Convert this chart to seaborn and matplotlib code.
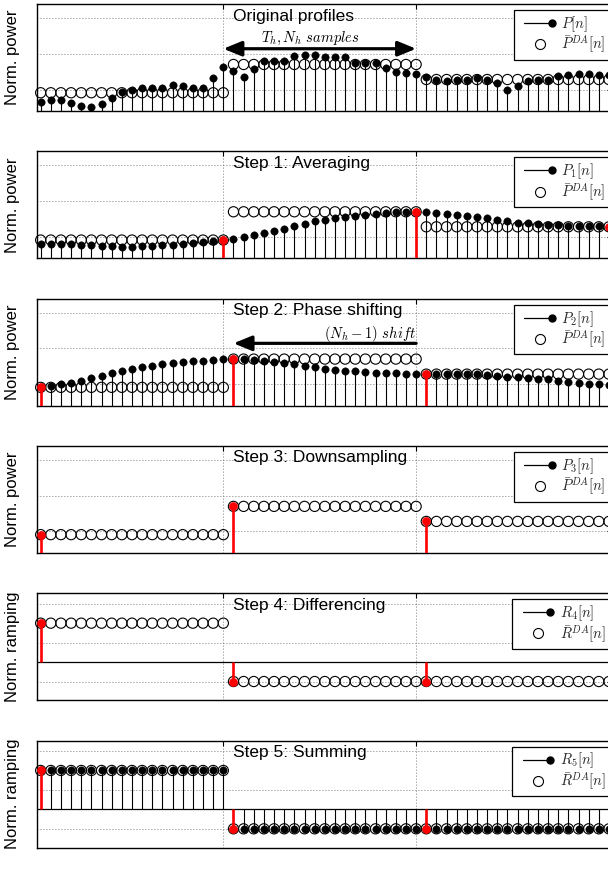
import numpy as np
import pandas as pd
import matplotlib
matplotlib.use("Agg")
import matplotlib.pyplot as plt
import seaborn as sns
from matplotlib.lines import Line2D
from matplotlib.legend_handler import HandlerBase
import matplotlib.transforms as mtransforms

# ---------------------------------------------------------------- data
block_len = 19          # N_h samples per hour
n_samples = 57
shift = 18              # N_h - 1

# measured profile P[n]
p_orig = [0.65, 0.72, 0.72, 0.61, 0.55, 0.51, 0.59, 0.76, 0.92, 1.00,
          1.05, 1.05, 1.05, 1.14, 1.09, 1.05, 1.05, 1.32, 1.62,
          1.52, 1.35, 1.57, 1.80, 1.80, 1.80, 1.94, 1.97, 1.97, 1.90,
          1.90, 1.90, 1.75, 1.75, 1.75, 1.59, 1.50, 1.45, 1.42,
          1.34, 1.26, 1.23, 1.26, 1.26, 1.31, 1.28, 1.17, 0.98, 1.09,
          1.23, 1.26, 1.26, 1.37, 1.40, 1.43, 1.43, 1.40, 1.40]

# hourly day-ahead values, one per block
p_da_blocks = [0.91, 1.70, 1.28]

# moving average P1[n] (long enough to cover the phase shift)
p_avg = [0.80, 0.80, 0.80, 0.79, 0.77, 0.76, 0.75, 0.73, 0.71, 0.72,
         0.74, 0.75, 0.76, 0.77, 0.79, 0.82, 0.85, 0.88,
         0.91, 0.95, 0.99, 1.04, 1.10, 1.16, 1.22, 1.30, 1.37, 1.43,
         1.48, 1.52, 1.56, 1.59, 1.62, 1.64, 1.66, 1.68, 1.69, 1.70,
         1.69, 1.67, 1.65, 1.62, 1.59, 1.56, 1.52, 1.47, 1.43, 1.40,
         1.38, 1.36, 1.34, 1.32, 1.31, 1.30, 1.29, 1.29,
         1.28, 1.28, 1.28, 1.28, 1.28, 1.27, 1.26, 1.24, 1.21, 1.19,
         1.17, 1.15, 1.13, 1.10, 1.07, 1.04, 1.01, 0.99, 0.97]

# hourly ramping values
r_da_blocks = [1.0, -0.5, -0.5]

pick_avg = [18, 37, 56]      # samples equal to the hourly mean
pick_down = [0, 19, 38]      # downsampled samples

power_ticks = [1, 2, 3]
ramp_ticks = [-0.5, 0.5, 1.5]
sample_ticks = [18, 37]

step_titles = ["Original profiles", "Step 1: Averaging", "Step 2: Phase shifting",
               "Step 3: Downsampling", "Step 4: Differencing", "Step 5: Summing"]
stem_labels = [r"$P[n]$", r"$P_1[n]$", r"$P_2[n]$", r"$P_3[n]$", r"$R_4[n]$", r"$R_5[n]$"]
da_labels = [r"$\bar{P}^{DA}[n]\;\;\;$"] * 4 + [r"$\bar{R}^{DA}[n]\;\;\;$"] * 2
y_labels = ["Norm. power"] * 4 + ["Norm. ramping"] * 2

# ---------------------------------------------------------------- derived series
n = np.arange(n_samples)
p_da = np.repeat(p_da_blocks, block_len)
r_da = np.repeat(r_da_blocks, block_len)
p1 = np.array(p_avg[:n_samples])
p2 = np.array(p_avg[shift:shift + n_samples])
r4 = np.array(r_da_blocks)
r5 = r_da

# ---------------------------------------------------------------- style
sns.set_theme(style="white")
plt.rcParams["font.family"] = ["Liberation Sans", "DejaVu Sans"]
plt.rcParams["mathtext.fontset"] = "cm"

RED = "#ff0000"
BLACK = "black"
S_CIRCLE, S_DOT, S_RED = 54, 28, 34
LABEL_FS = 12.5
MATH_FS = 10.5


class StemKeyHandler(HandlerBase):
    """Legend key: short stem line with a dot at its right end."""

    def create_artists(self, legend, orig_handle, xdescent, ydescent,
                       width, height, fontsize, trans):
        y = (height - ydescent) / 2
        x0, x1 = -xdescent + 0.18 * width, width - xdescent
        line = Line2D([x0, x1], [y, y], color=orig_handle.get_color(),
                      lw=orig_handle.get_linewidth())
        tip = Line2D([x1], [y], ls="none", marker="o",
                     ms=orig_handle.get_markersize(),
                     mfc=orig_handle.get_markerfacecolor(),
                     mec=orig_handle.get_markeredgecolor())
        line.set_transform(trans)
        tip.set_transform(trans)
        return [line, tip]


class CircleKeyHandler(HandlerBase):
    """Legend key: single open circle."""

    def create_artists(self, legend, orig_handle, xdescent, ydescent,
                       width, height, fontsize, trans):
        y = (height - ydescent) / 2
        xc = -xdescent + 0.64 * width
        ring = Line2D([xc], [y], ls="none", marker="o",
                      ms=orig_handle.get_markersize(), mfc="none",
                      mec=orig_handle.get_markeredgecolor(),
                      mew=orig_handle.get_markeredgewidth())
        ring.set_transform(trans)
        return [ring]


def stems(ax, x, y, base, color, lw, z):
    ax.vlines(x, base, y, colors=color, lw=lw, zorder=z)


def dots(ax, x, y, z):
    sns.scatterplot(x=x, y=y, ax=ax, s=S_DOT, color=BLACK, edgecolor=BLACK,
                    linewidth=0.4, zorder=z, clip_on=False, legend=False)


def circles(ax, x, y, z):
    sns.scatterplot(x=x, y=y, ax=ax, s=S_CIRCLE, color=BLACK, facecolor="none",
                    edgecolor=BLACK, linewidth=0.8, zorder=z, clip_on=False,
                    legend=False)


def red_stems(ax, x, y, base):
    ax.vlines(x, base, y, colors=RED, lw=1.9, zorder=6)
    sns.scatterplot(x=x, y=y, ax=ax, s=S_RED, color=RED, edgecolor=RED,
                    linewidth=0.4, zorder=7, clip_on=False, legend=False)


# ---------------------------------------------------------------- figure
W, H = 608, 877
fig = plt.figure(figsize=(W / 100, H / 100), dpi=100)

left_px, right_px = 37, 612
ax_w = right_px - left_px
panel_h = 107
tops = [4 + 147.3 * i for i in range(6)]
axes = []
for t in tops:
    ax = fig.add_axes([left_px / W, 1 - (t + panel_h) / H, ax_w / W, panel_h / H])
    axes.append(ax)

for i, ax in enumerate(axes):
    ramp = i >= 4
    ax.set_xlim(-0.36, 56.3)
    if ramp:
        ax.set_ylim(-0.98, 1.77)
        ax.set_yticks(ramp_ticks)
    else:
        ax.set_ylim(0.40, 3.39)
        ax.set_yticks(power_ticks)
    ax.set_xticks(sample_ticks)
    ax.tick_params(direction="in", length=3.5, width=0.8, top=True, right=True,
                   labelleft=False, labelbottom=False, color="black")
    ax.grid(True, color="0.3", lw=0.6, linestyle=(0, (1, 2.6)))
    ax.set_axisbelow(True)
    for sp in ax.spines.values():
        sp.set_color("black")
        sp.set_linewidth(1.0)
    ax.set_ylabel(y_labels[i], fontsize=12, color="black")
    ax.yaxis.set_label_coords(-24 / ax_w, 0.5)
    ax.yaxis.label.set_va("center")
    ax.text(19.0, 1 - 12 / panel_h, step_titles[i],
            transform=mtransforms.blended_transform_factory(ax.transData, ax.transAxes),
            ha="left", va="center", fontsize=LABEL_FS, color="black", zorder=8)

# panel 1: original profiles
ax = axes[0]
stems(ax, n, p_orig, 0, BLACK, 0.8, 2)
circles(ax, n, p_da, 3)
dots(ax, n, p_orig, 4)
ax.annotate("", xy=(18, 2.14), xytext=(37, 2.14),
            arrowprops=dict(arrowstyle="<|-|>,head_length=1.1,head_width=0.45",
                            lw=2.3, color="black", shrinkA=0, shrinkB=0,
                            mutation_scale=10))
ax.text(26.6, 2.42, r"$T_h, N_h\ samples$", ha="center", va="center",
        fontsize=MATH_FS, color="black")

# panel 2: averaging
ax = axes[1]
stems(ax, n, p1, 0, BLACK, 0.8, 2)
circles(ax, n, p_da, 3)
dots(ax, n, p1, 4)
red_stems(ax, np.array(pick_avg), p1[pick_avg], 0)

# panel 3: phase shifting
ax = axes[2]
stems(ax, n, p2, 0, BLACK, 0.8, 2)
circles(ax, n, p_da, 3)
dots(ax, n, p2, 4)
red_stems(ax, np.array(pick_down), p2[pick_down], 0)
ax.annotate("", xy=(19, 2.14), xytext=(37, 2.14),
            arrowprops=dict(arrowstyle="-|>,head_length=1.1,head_width=0.45",
                            lw=2.3, color="black", shrinkA=0, shrinkB=0,
                            mutation_scale=10))
ax.text(37, 2.41, r"$(N_h-1)\ shift$", ha="right", va="center",
        fontsize=MATH_FS, color="black")

# panel 4: downsampling
ax = axes[3]
circles(ax, n, p_da, 3)
red_stems(ax, np.array(pick_down), p2[pick_down], 0)

# panel 5: differencing
ax = axes[4]
ax.axhline(0, color="black", lw=0.9, zorder=2)
circles(ax, n, r_da, 3)
red_stems(ax, np.array(pick_down), r4, 0)

# panel 6: summing
ax = axes[5]
ax.axhline(0, color="black", lw=0.9, zorder=2)
stems(ax, n, r5, 0, BLACK, 0.8, 2)
circles(ax, n, r_da, 3)
dots(ax, n, r5, 4)
red_stems(ax, np.array(pick_down), r5[pick_down], 0)
ax.set_xlabel("Samples", fontsize=LABEL_FS, color="black")
ax.xaxis.set_label_coords((322 - left_px) / ax_w, -0.07)

# legends
leg_anchor = ((610 - left_px) / ax_w, 1 - 6 / panel_h)
for i, ax in enumerate(axes):
    stem_key = Line2D([], [], color=BLACK, lw=0.9, marker="o", ms=5.0,
                      mfc=BLACK, mec=BLACK)
    da_key = Line2D([], [], ls="none", marker="o", ms=7.2, mfc="none",
                    mec=BLACK, mew=0.8)
    leg = ax.legend([stem_key, da_key], [stem_labels[i], da_labels[i]],
                    handler_map={stem_key: StemKeyHandler(),
                                 da_key: CircleKeyHandler()},
                    loc="upper right", bbox_to_anchor=leg_anchor,
                    numpoints=1, fontsize=MATH_FS,
                    frameon=True, fancybox=False, framealpha=1,
                    edgecolor="black", borderpad=0.3, labelspacing=0.0,
                    handlelength=2.3, handletextpad=0.65, borderaxespad=0.0)
    leg.get_frame().set_linewidth(0.9)
    leg.set_zorder(10)

fig.savefig("out.png", dpi=100)
